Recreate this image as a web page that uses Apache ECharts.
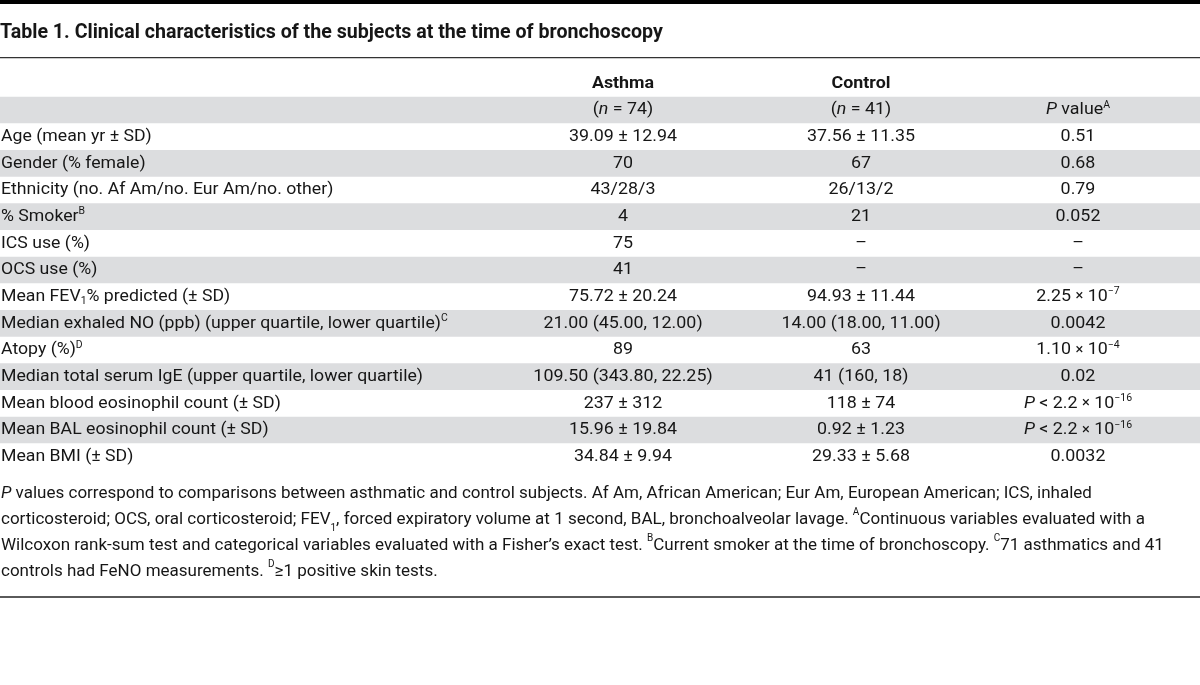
<!DOCTYPE html>
<html><head><meta charset="utf-8">
<script src="https://cdn.jsdelivr.net/npm/echarts@6/dist/echarts.min.js"></script>
<style>html,body{margin:0;padding:0;background:#fff}#c{width:1200px;height:685px}</style>
</head><body><div id="c"></div>
<script>
// ---------- data ----------
const tableTitle = 'Table 1. Clinical characteristics of the subjects at the time of bronchoscopy';
const groupHeaders = ['Asthma', 'Control', ''];
const sizeHeaders = ['({i|n} = 74)', '({i|n} = 41)', '{i|P} value{sup|A}'];
const rowLabels = [
  'Age (mean yr ± SD)',
  'Gender (% female)',
  'Ethnicity (no. Af Am/no. Eur Am/no. other)',
  '% Smoker{sup|B}',
  'ICS use (%)',
  'OCS use (%)',
  'Mean FEV{sub|1}% predicted (± SD)',
  'Median exhaled NO (ppb) (upper quartile, lower quartile){sup|C}',
  'Atopy (%){sup|D}',
  'Median total serum IgE (upper quartile, lower quartile)',
  'Mean blood eosinophil count (± SD)',
  'Mean BAL eosinophil count (± SD)',
  'Mean BMI (± SD)'
];
const asthmaValues = ['39.09 ± 12.94', '70', '43/28/3', '4', '75', '41', '75.72 ± 20.24',
  '21.00 (45.00, 12.00)', '89', '109.50 (343.80, 22.25)', '237 ± 312', '15.96 ± 19.84', '34.84 ± 9.94'];
const controlValues = ['37.56 ± 11.35', '67', '26/13/2', '21', '–', '–', '94.93 ± 11.44',
  '14.00 (18.00, 11.00)', '63', '41 (160, 18)', '118 ± 74', '0.92 ± 1.23', '29.33 ± 5.68'];
const pValues = ['0.51', '0.68', '0.79', '0.052', '–', '–', '2.25 {x|×} 10{sup|−7}', '0.0042',
  '1.10 {x|×} 10{sup|−4}', '0.02', '{i|P} < 2.2 {x|×} 10{sup|−16}', '{i|P} < 2.2 {x|×} 10{sup|−16}', '0.0032'];
const footnoteLines = [
  '{i|P} values correspond to comparisons between asthmatic and control subjects. Af Am, African American; Eur Am, European American; ICS, inhaled',
  'corticosteroid; OCS, oral corticosteroid; FEV{sub|1}, forced expiratory volume at 1 second, BAL, bronchoalveolar lavage. {sup|A}Continuous variables evaluated with a',
  'Wilcoxon rank-sum test and categorical variables evaluated with a Fisher’s exact test. {sup|B}Current smoker at the time of bronchoscopy. {sup|C}71 asthmatics and 41',
  'controls had FeNO measurements. {sup|D}≥1 positive skin tests.'
];

// ---------- layout / style ----------
const FONT = 'Roboto, "Liberation Sans", sans-serif';
const INK = '#161616';
const BAND = '#dcdddf';
const FS = 17;
const SX_LABEL = 1.04;     // horizontal scale of row labels
const SX_NOTE = 1.0;       // horizontal scale of footnote text
const SX_NUM = 1.05;       // horizontal scale of value columns
const colX = [1, 623, 861, 1078];
const colAlign = ['left', 'center', 'center', 'center'];

function rich(size, weight) {
  const base = {fontFamily: FONT, fontWeight: weight, fill: INK};
  return {
    i: Object.assign({}, base, {fontSize: size, fontStyle: 'italic', lineHeight: 20}),
    sup: Object.assign({}, base, {fontSize: Math.round(size * 0.6), verticalAlign: 'top', lineHeight: 13}),
    sub: Object.assign({}, base, {fontSize: Math.round(size * 0.6), verticalAlign: 'bottom', lineHeight: 10}),
    x: Object.assign({}, base, {fontSize: Math.round(size * 0.8), lineHeight: 20})
  };
}

// rows of the y category axis: two header rows + data rows
const rowKeys = ['groups', 'sizes'].concat(rowLabels);
const cells = [];
groupHeaders.forEach((t, j) => { if (t) cells.push({col: j + 1, row: 0, text: t, bold: true}); });
sizeHeaders.forEach((t, j) => cells.push({col: j + 1, row: 1, text: t}));
rowLabels.forEach((t, r) => {
  cells.push({col: 0, row: r + 2, text: t});
  cells.push({col: 1, row: r + 2, text: asthmaValues[r]});
  cells.push({col: 2, row: r + 2, text: controlValues[r]});
  cells.push({col: 3, row: r + 2, text: pValues[r]});
});
const bandRows = rowKeys.map((k, i) => i).filter(i => i % 2 === 1);

const chart = echarts.init(document.getElementById('c'), null, {renderer: 'canvas'});
chart.setOption({
  animation: false,
  backgroundColor: '#fff',
  grid: {left: 0, right: 0, top: 70, height: 400, containLabel: false},
  xAxis: {type: 'value', min: 0, max: 1200, show: false},
  yAxis: {type: 'category', data: rowKeys, inverse: true, show: false},
  graphic: [
    {type: 'rect', shape: {x: 0, y: 0, width: 1200, height: 4}, style: {fill: '#000'}},
    {type: 'text', x: 0, y: 33, scaleX: 0.98,
      style: {text: tableTitle, fontFamily: FONT, fontSize: 20, fontWeight: 'bold', fill: INK, verticalAlign: 'middle'}},
    {type: 'rect', shape: {x: 0, y: 57, width: 1200, height: 1.2}, style: {fill: '#333'}},
    {type: 'text', x: 1, y: 481, scaleX: SX_NOTE,
      style: {text: footnoteLines.join('\n'), fontFamily: FONT, fontSize: FS, fill: INK,
        lineHeight: 26, verticalAlign: 'top', rich: rich(FS, 'normal')}},
    {type: 'rect', shape: {x: 0, y: 596, width: 1200, height: 2}, style: {fill: '#5a5a5a'}}
  ],
  series: [
    {
      type: 'custom', silent: true,
      data: bandRows.map(i => [0, i]),
      renderItem: function (params, api) {
        const r = api.value(1);
        const p0 = api.coord([0, r]);
        const p1 = api.coord([1200, r]);
        const h = api.size([0, 1])[1];
        return {type: 'rect', shape: {x: p0[0], y: p0[1] - h / 2, width: p1[0] - p0[0], height: h},
          style: {fill: BAND}};
      }
    },
    {
      type: 'custom', silent: true,
      data: cells.map(c => [colX[c.col], c.row]),
      renderItem: function (params, api) {
        const c = cells[params.dataIndex];
        const p = api.coord([api.value(0), api.value(1)]);
        const w = c.bold ? 'bold' : 'normal';
        return {type: 'text', x: p[0], y: p[1], scaleX: c.col === 0 ? SX_LABEL : SX_NUM,
          style: {text: c.text, x: 0, y: 0, align: colAlign[c.col], verticalAlign: 'middle',
            fontFamily: FONT, fontSize: FS, fontWeight: w, fill: INK, lineHeight: 20, rich: rich(FS, w)}};
      }
    }
  ]
});
</script>
</body></html>
